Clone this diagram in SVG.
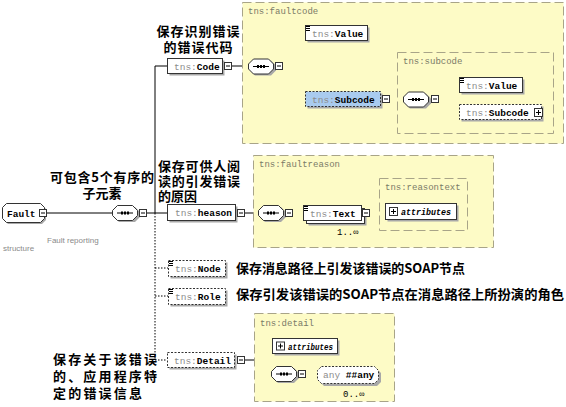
<svg xmlns="http://www.w3.org/2000/svg" width="566" height="407" viewBox="0 0 566 407">
<defs>
<style>
.grp{fill:#fdfbc6;stroke:#a8a488;stroke-width:1;stroke-dasharray:9,4}
.gl{font-family:"Liberation Mono",monospace;font-size:9px;fill:#7a7a66}
.box{fill:#fff;stroke:#333;stroke-width:1}
.opt{stroke-dasharray:2,1.5}
.sh{fill:#a8a8a8}
.t{font-family:"Liberation Mono",monospace;font-size:9.5px}
.p{fill:#8c8c8c;font-weight:normal}
.b{font-weight:bold;fill:#000}
.ln{stroke:#000;stroke-width:1;fill:none}
.dl{stroke:#000;stroke-width:1;fill:none;stroke-dasharray:1.5,1.5}
.zh{font-family:"Noto Sans CJK SC",sans-serif;font-weight:bold;font-size:13px;fill:#000}
.mb{fill:#fff;stroke:#333;stroke-width:1}
.sm{font-family:"Liberation Sans",sans-serif;font-size:8px;fill:#8a8a8a}
.att{font-family:"Liberation Mono",monospace;font-size:8.5px;font-style:italic;font-weight:bold;fill:#000}
.mult{font-family:"Liberation Mono",monospace;font-size:9px;fill:#000}
</style>
<g id="minus"><rect x="0.5" y="0.5" width="7" height="7" class="mb"/><line x1="2" y1="4" x2="6" y2="4" stroke="#000"/></g>
<g id="plus"><rect x="0.5" y="0.5" width="8" height="8" class="mb"/><line x1="2" y1="4.5" x2="7" y2="4.5" stroke="#000"/><line x1="4.5" y1="2" x2="4.5" y2="7" stroke="#000"/></g>
<g id="seq">
<path d="M7,2 H23 L28,7 V12 L23,17 H7 L2,12 V7 Z" class="sh"/>
<path d="M5.5,0.5 H20.5 L25.5,5.5 V10.5 L20.5,15.5 H5.5 L0.5,10.5 V5.5 Z" class="box"/>
<line x1="5" y1="8" x2="21" y2="8" stroke="#000"/>
<rect x="9" y="6.5" width="2" height="3" fill="#000"/><rect x="12" y="6.5" width="2" height="3" fill="#000"/><rect x="15" y="6.5" width="2" height="3" fill="#000"/>
</g>
<g id="icon"><line x1="1" y1="0.5" x2="5" y2="0.5" stroke="#000"/><line x1="1" y1="2.5" x2="5" y2="2.5" stroke="#000"/><line x1="1" y1="4.5" x2="5" y2="4.5" stroke="#000"/></g>
</defs>

<g id="connectors">
<line x1="47" y1="213" x2="112" y2="213" class="ln"/>
<line x1="147" y1="213" x2="155" y2="213" class="ln"/>
<line x1="155" y1="66" x2="155" y2="213" class="ln"/>
<line x1="155" y1="213" x2="155" y2="360" class="dl"/>
<line x1="155" y1="66" x2="167" y2="66" class="ln"/>
<line x1="232" y1="66" x2="248" y2="66" class="ln"/>
<line x1="283" y1="66" x2="292" y2="66" class="ln"/>
<line x1="292" y1="33" x2="292" y2="66" class="ln"/>
<line x1="292" y1="66" x2="292" y2="99" class="dl"/>
<line x1="292" y1="33" x2="305" y2="33" class="ln"/>
<line x1="292" y1="99" x2="305" y2="99" class="dl"/>
<line x1="390" y1="99" x2="403" y2="99" class="ln"/>
<line x1="439" y1="99" x2="447" y2="99" class="ln"/>
<line x1="447" y1="85" x2="447" y2="99" class="ln"/>
<line x1="447" y1="99" x2="447" y2="112" class="dl"/>
<line x1="447" y1="85" x2="459" y2="85" class="ln"/>
<line x1="447" y1="112" x2="459" y2="112" class="dl"/>
<line x1="155" y1="213" x2="167" y2="213" class="ln"/>
<line x1="245" y1="213" x2="258" y2="213" class="ln"/>
<line x1="293" y1="213" x2="303" y2="213" class="ln"/>
<line x1="370" y1="213" x2="385" y2="213" class="ln"/>
<line x1="155" y1="268" x2="168" y2="268" class="dl"/>
<line x1="155" y1="296" x2="168" y2="296" class="dl"/>
<line x1="155" y1="360" x2="167" y2="360" class="dl"/>
<line x1="245" y1="360" x2="258" y2="360" class="ln"/>
<line x1="258" y1="346" x2="258" y2="374" class="ln"/>
<line x1="258" y1="346" x2="272" y2="346" class="ln"/>
<line x1="258" y1="374" x2="271" y2="374" class="ln"/>
<line x1="306" y1="374" x2="317" y2="374" class="dl"/>
</g>

<g id="faultcode">
<rect x="242.5" y="2.5" width="321" height="141" class="grp"/>
<text x="248" y="14" class="gl">tns:faultcode</text>
</g>
<g id="subcodeGroup">
<rect x="397.5" y="52.5" width="156" height="81" class="grp"/>
<text x="403" y="64" class="gl">tns:subcode</text>
</g>
<g id="faultreason">
<rect x="253.5" y="155.5" width="240" height="92" class="grp"/>
<text x="259" y="167" class="gl">tns:faultreason</text>
</g>
<g id="reasontext">
<rect x="379.5" y="178.5" width="88" height="52" class="grp"/>
<text x="385" y="190" class="gl">tns:reasontext</text>
</g>
<g id="detailGroup">
<rect x="254.5" y="313.5" width="140" height="88" class="grp"/>
<text x="260" y="326" class="gl">tns:detail</text>
</g>

<g id="Fault">
<polygon points="4,209 8,205 42,205 46,209 46,220 42,224 8,224 4,220" class="sh"/>
<polygon points="2.5,207.5 6.5,203.5 40.5,203.5 44.5,207.5 44.5,218.5 40.5,222.5 6.5,222.5 2.5,218.5" class="box"/>
<text x="7" y="216.5" class="t b" font-size="10">Fault</text>
<use href="#minus" x="39" y="209"/>
</g>
<g id="seq1"><use href="#seq" x="112" y="205"/><use href="#minus" x="139" y="209"/></g>

<g id="Code">
<rect x="169.5" y="60.5" width="55" height="15" class="sh"/>
<rect x="167.5" y="58.5" width="55" height="15" class="box"/>
<text x="174" y="69.5" class="t"><tspan class="p">tns:</tspan><tspan class="b">Code</tspan></text>
<use href="#minus" x="224" y="62"/>
</g>
<g id="seq2"><use href="#seq" x="248" y="58.5"/><use href="#minus" x="275" y="62"/></g>
<g id="Value">
<rect x="307.5" y="27.5" width="62" height="15" class="sh"/>
<rect x="305.5" y="25.5" width="62" height="15" class="box"/>
<use href="#icon" x="305" y="26"/>
<text x="312" y="36.5" class="t"><tspan class="p">tns:</tspan><tspan class="b">Value</tspan></text>
</g>
<g id="Subcode">
<rect x="307.5" y="93.5" width="75" height="15" class="sh"/>
<rect x="305.5" y="91.5" width="75" height="15" fill="#a9cbef" stroke="#333" stroke-dasharray="2,1.5"/>
<text x="312" y="102.5" class="t"><tspan class="p">tns:</tspan><tspan class="b">Subcode</tspan></text>
<use href="#minus" x="382" y="95"/>
</g>
<g id="seq3"><use href="#seq" x="403" y="91.5"/><use href="#minus" x="431" y="95"/></g>
<g id="Value2">
<rect x="461.5" y="79.5" width="63" height="15" class="sh"/>
<rect x="459.5" y="77.5" width="63" height="15" class="box"/>
<use href="#icon" x="459" y="78"/>
<text x="466" y="88.5" class="t"><tspan class="p">tns:</tspan><tspan class="b">Value</tspan></text>
</g>
<g id="Subcode2">
<rect x="461.5" y="106.5" width="82" height="15" class="sh"/>
<rect x="459.5" y="104.5" width="82" height="15" class="box opt"/>
<text x="466" y="115.5" class="t"><tspan class="p">tns:</tspan><tspan class="b">Subcode</tspan></text>
<use href="#plus" x="534" y="108"/>
</g>

<g id="heason">
<rect x="169.5" y="206.5" width="68" height="16" class="sh"/>
<rect x="167.5" y="204.5" width="68" height="16" class="box"/>
<text x="175" y="216" class="t"><tspan class="p">tns:</tspan><tspan class="b">heason</tspan></text>
<use href="#minus" x="237" y="209"/>
</g>
<g id="seq4"><use href="#seq" x="258" y="205"/><use href="#minus" x="285" y="209"/></g>
<g id="Text">
<rect x="308.5" y="210.5" width="58" height="15" class="sh"/>
<rect x="306.5" y="208.5" width="58" height="15" class="box"/>
<rect x="303.5" y="205.5" width="58" height="15" class="box"/>
<use href="#icon" x="303" y="206"/>
<text x="310" y="216.5" class="t"><tspan class="p">tns:</tspan><tspan class="b">Text</tspan></text>
<use href="#minus" x="362" y="209"/>
<text x="337" y="235" class="mult">1..∞</text>
</g>
<g id="attributes1">
<rect x="387.5" y="205.5" width="71" height="16" class="sh"/>
<rect x="385.5" y="203.5" width="71" height="16" class="box"/>
<use href="#plus" x="389" y="207"/>
<text x="401" y="215" class="att" textLength="50" lengthAdjust="spacingAndGlyphs">attributes</text>
</g>

<g id="Node">
<rect x="170.5" y="262.5" width="57" height="16" class="sh"/>
<rect x="168.5" y="260.5" width="57" height="16" class="box opt"/>
<use href="#icon" x="168" y="261"/>
<text x="175" y="272" class="t"><tspan class="p">tns:</tspan><tspan class="b">Node</tspan></text>
</g>
<g id="Role">
<rect x="170.5" y="290.5" width="57" height="16" class="sh"/>
<rect x="168.5" y="288.5" width="57" height="16" class="box opt"/>
<use href="#icon" x="168" y="289"/>
<text x="175" y="300" class="t"><tspan class="p">tns:</tspan><tspan class="b">Role</tspan></text>
</g>

<g id="Detail">
<rect x="169.5" y="354.5" width="67" height="15" class="sh"/>
<rect x="167.5" y="352.5" width="67" height="15" class="box opt"/>
<text x="174" y="363.5" class="t"><tspan class="p">tns:</tspan><tspan class="b">Detail</tspan></text>
<use href="#minus" x="237" y="356"/>
</g>
<g id="attributes2">
<rect x="274.5" y="340.5" width="65" height="15" class="sh"/>
<rect x="272.5" y="338.5" width="65" height="15" class="box"/>
<use href="#plus" x="276" y="341.5"/>
<text x="288" y="349.5" class="att" textLength="45" lengthAdjust="spacingAndGlyphs">attributes</text>
</g>
<g id="seq5"><use href="#seq" x="271" y="366"/><use href="#minus" x="298" y="370"/></g>
<g id="any">
<polygon points="324,369 377,369 381,373 381,382 377,386 324,386 320,382 320,373" class="sh"/>
<polygon points="321.5,366.5 374.5,366.5 378.5,370.5 378.5,379.5 374.5,383.5 321.5,383.5 317.5,379.5 317.5,370.5" class="box opt"/>
<text x="323" y="378" class="t"><tspan class="p">any </tspan><tspan class="b">##any</tspan></text>
<text x="343" y="397" class="mult">0..∞</text>
</g>

<g id="labels">
<text x="198" y="36" class="zh" text-anchor="middle" textLength="83">保存识别错误</text>
<text x="198" y="52" class="zh" text-anchor="middle" textLength="69">的错误代码</text>
<text x="102" y="182" class="zh" text-anchor="middle" textLength="104">可包含5个有序的</text>
<text x="102" y="198" class="zh" text-anchor="middle">子元素</text>
<text x="158" y="171" class="zh" textLength="82">保存可供人阅</text>
<text x="158" y="186" class="zh" textLength="82">读的引发错误</text>
<text x="158" y="201" class="zh">的原因</text>
<text x="236" y="273" class="zh" textLength="229" lengthAdjust="spacingAndGlyphs">保存消息路径上引发该错误的SOAP节点</text>
<text x="236" y="299" class="zh" textLength="328" lengthAdjust="spacingAndGlyphs">保存引发该错误的SOAP节点在消息路径上所扮演的角色</text>
<text x="53" y="364" class="zh" textLength="104">保存关于该错误</text>
<text x="53" y="381" class="zh" textLength="104">的、应用程序特</text>
<text x="53" y="398" class="zh" textLength="89">定的错误信息</text>
<text x="47" y="243" class="sm">Fault reporting</text>
<text x="3" y="251" class="sm">structure</text>
</g>
</svg>
